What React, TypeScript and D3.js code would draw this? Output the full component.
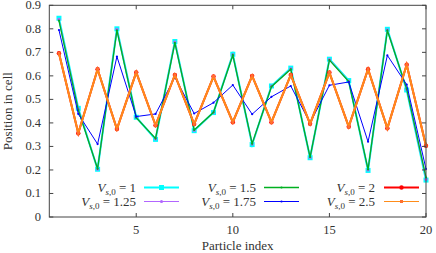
import React from 'react';
import * as d3 from 'd3';

const particles = d3.range(1, 21);

const vs1 = [0.845, 0.462, 0.203, 0.8, 0.424, 0.33, 0.746, 0.367, 0.444, 0.692, 0.308, 0.557, 0.633, 0.252, 0.671, 0.58, 0.198, 0.798, 0.54, 0.157];
const vs125 = [0.84, 0.46, 0.203, 0.798, 0.424, 0.332, 0.744, 0.368, 0.444, 0.69, 0.31, 0.556, 0.631, 0.253, 0.67, 0.578, 0.2, 0.796, 0.542, 0.16];
const vs15 = [0.835, 0.455, 0.205, 0.793, 0.422, 0.334, 0.74, 0.37, 0.445, 0.688, 0.312, 0.554, 0.628, 0.255, 0.667, 0.576, 0.202, 0.793, 0.545, 0.168];
const vs175 = [0.795, 0.438, 0.31, 0.682, 0.427, 0.438, 0.594, 0.44, 0.486, 0.561, 0.437, 0.511, 0.557, 0.4, 0.56, 0.574, 0.32, 0.687, 0.563, 0.204];
const vs2 = [0.696, 0.356, 0.628, 0.374, 0.615, 0.39, 0.604, 0.395, 0.597, 0.403, 0.6, 0.403, 0.604, 0.396, 0.614, 0.384, 0.628, 0.377, 0.647, 0.303];
const vs25 = [0.696, 0.356, 0.628, 0.374, 0.615, 0.39, 0.604, 0.395, 0.597, 0.403, 0.6, 0.403, 0.604, 0.396, 0.614, 0.384, 0.628, 0.377, 0.647, 0.303];

const xTicks = [5, 10, 15, 20];
const yTicks = [0, 0.1, 0.2, 0.3, 0.4, 0.5, 0.6, 0.7, 0.8, 0.9];

type Series = {
  label: string;
  values: number[];
  color: string;
  width: number;
  marker: 'square' | 'dot';
  size: number;
  markerColor: string;
};

const series: Series[] = [
  { label: '1', values: vs1, color: '#00ffff', width: 2, marker: 'square', size: 5, markerColor: '#00ffff' },
  { label: '1.25', values: vs125, color: '#b266ff', width: 1, marker: 'dot', size: 1.6, markerColor: '#b266ff' },
  { label: '1.5', values: vs15, color: '#00b020', width: 1.3, marker: 'dot', size: 1.1, markerColor: '#00b020' },
  { label: '1.75', values: vs175, color: '#0000ff', width: 1, marker: 'dot', size: 1.1, markerColor: '#0000ff' },
  { label: '2', values: vs2, color: '#ff0000', width: 2, marker: 'dot', size: 2.2, markerColor: '#ff0000' },
  { label: '2.5', values: vs25, color: '#ff8c1a', width: 2, marker: 'square', size: 3, markerColor: '#ff7030' },
];

const fontStyle = { fontFamily: "'Liberation Serif', 'DejaVu Serif', serif" };
const textColor = '#333';

function Marker({ s, x, y }: { s: Series; x: number; y: number }) {
  if (s.marker === 'square') {
    return <rect x={x - s.size / 2} y={y - s.size / 2} width={s.size} height={s.size} fill={s.markerColor} />;
  }
  return <circle cx={x} cy={y} r={s.size} fill={s.markerColor} />;
}

function LegendLabel({ x, y, value }: { x: number; y: number; value: string }) {
  return (
    <text x={x} y={y} textAnchor="end" style={fontStyle} fontSize={13} fill={textColor}>
      <tspan fontStyle="italic">V</tspan>
      <tspan fontStyle="italic" fontSize={9} dy={3}>s</tspan>
      <tspan fontSize={9}>,0</tspan>
      <tspan dy={-3}>{' = ' + value}</tspan>
    </text>
  );
}

export default function App() {
  const W = 436;
  const H = 253;
  const x = d3.scaleLinear().domain([0.5, 20]).range([49.3, 426]);
  const y = d3.scaleLinear().domain([0, 0.9]).range([217, 5.3]);
  const line = d3.line<number>().x((_, i) => x(particles[i])).y((d) => y(d));

  const legendCols = [
    { textX: 136, lineX0: 144, lineX1: 179 },
    { textX: 256, lineX0: 264, lineX1: 299 },
    { textX: 375, lineX0: 384, lineX1: 419 },
  ];
  const legendRows = [187.5, 201.5];

  return (
    <svg width={W} height={H} style={{ position: 'absolute', left: 0, top: 0, background: '#fff' }}>
      {series.map((s) => (
        <g key={s.label}>
          <path d={line(s.values) || ''} fill="none" stroke={s.color} strokeWidth={s.width} />
          {s.values.map((v, i) => (
            <Marker key={i} s={s} x={x(particles[i])} y={y(v)} />
          ))}
        </g>
      ))}

      <rect x={x(0.5)} y={y(0.9)} width={x(20) - x(0.5)} height={y(0) - y(0.9)} fill="none" stroke="#444" strokeWidth={1} />

      {yTicks.map((t) => (
        <g key={t}>
          <line x1={x(0.5)} x2={x(0.5) + 4} y1={y(t)} y2={y(t)} stroke="#444" />
          <line x1={x(20)} x2={x(20) - 4} y1={y(t)} y2={y(t)} stroke="#444" />
          <text x={41} y={y(t) + 4} textAnchor="end" style={fontStyle} fontSize={12.5} fill={textColor}>
            {d3.format('.1~f')(t)}
          </text>
        </g>
      ))}
      {xTicks.map((t) => (
        <g key={t}>
          <line x1={x(t)} x2={x(t)} y1={y(0)} y2={y(0) - 4} stroke="#444" />
          <line x1={x(t)} x2={x(t)} y1={y(0.9)} y2={y(0.9) + 4} stroke="#444" />
          <text x={x(t)} y={234} textAnchor="middle" style={fontStyle} fontSize={12.5} fill={textColor}>
            {t}
          </text>
        </g>
      ))}

      <text x={(x(0.5) + x(20)) / 2} y={250} textAnchor="middle" style={fontStyle} fontSize={13} fill={textColor}>
        Particle index
      </text>
      <text
        transform={`translate(12,${(y(0) + y(0.9)) / 2}) rotate(-90)`}
        textAnchor="middle"
        style={fontStyle}
        fontSize={13}
        fill={textColor}
      >
        Position in cell
      </text>

      {series.map((s, i) => {
        const col = legendCols[Math.floor(i / 2)];
        const ly = legendRows[i % 2];
        const mid = (col.lineX0 + col.lineX1) / 2;
        return (
          <g key={'lg' + s.label}>
            <LegendLabel x={col.textX} y={ly + 4} value={s.label} />
            <line x1={col.lineX0} x2={col.lineX1} y1={ly} y2={ly} stroke={s.color} strokeWidth={s.label === '2.5' ? 1 : s.width} />
            <Marker s={s} x={mid} y={ly} />
          </g>
        );
      })}
    </svg>
  );
}
